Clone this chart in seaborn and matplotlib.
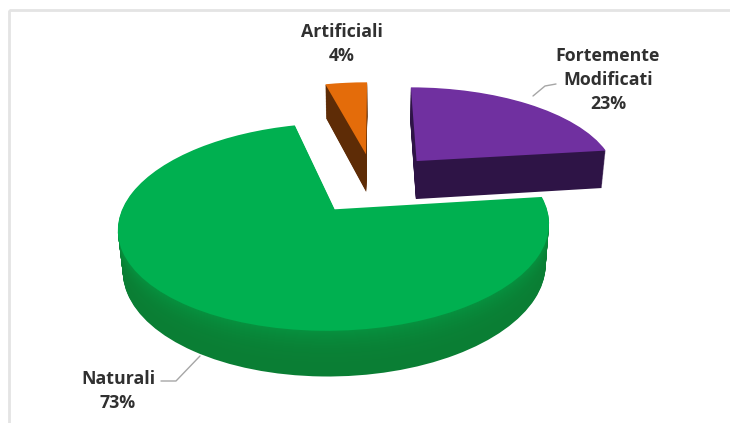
import numpy as np
import pandas as pd
import matplotlib
matplotlib.use("Agg")
import matplotlib.pyplot as plt
from matplotlib.transforms import Transform
from matplotlib.patches import Rectangle
from matplotlib.path import Path
import seaborn as sns

# ---------------- data ----------------
categories = ["Fortemente\nModificati", "Naturali", "Artificiali"]
values = [23, 73, 4]
top_colors = ["#7030A0", "#00B050", "#E46C0A"]
side_colors = ["#2E1446", "#0A7E34", "#5E2C06"]

df = pd.DataFrame({"categoria": categories, "valore": values})
df["pct"] = df["valore"] / df["valore"].sum() * 100

sns.set_theme(style="white")
plt.rcParams["font.family"] = ["Open Sans", "DejaVu Sans"]

# ---------------- 3D projection ----------------
X0, Y0 = 374.0, 183.0   # pixel position of pie centre
S = 203.0               # pixel scale
ALPHA = np.deg2rad(27.0)
DIST = 5.5
THICK = 0.22
EXPLODE = 0.33


class Proj(Transform):
    input_dims = 2
    output_dims = 2
    is_separable = False
    has_inverse = False

    def __init__(self, z):
        super().__init__()
        self.z = z

    def transform_non_affine(self, pts):
        pts = np.asarray(pts, dtype=float)
        x, y = pts[:, 0], pts[:, 1]
        sn, c = np.sin(ALPHA), np.cos(ALPHA)
        w = y * c - self.z * sn
        s = DIST / (DIST + w)
        u = X0 + S * x * s
        v = Y0 - S * (y * sn + self.z * c) * s
        return np.column_stack([u, v])

    def transform_path_non_affine(self, path):
        return Path._fast_from_codes_and_verts(
            self.transform_non_affine(path.vertices), path.codes, path)


fig = plt.figure(figsize=(7.30, 4.23), dpi=100)
fig.patch.set_facecolor("white")
ax = fig.add_axes([0, 0, 1, 1])

# paint order: orange (back), purple, green (front)
order_z = {2: 1, 0: 3, 1: 5}

n_layers = 46
zs = np.linspace(-THICK, 0, n_layers)
for li, z in enumerate(zs):
    is_top = li == n_layers - 1
    frac = li / (n_layers - 1)
    cols = []
    for i in range(len(values)):
        if is_top:
            cols.append(top_colors[i])
        else:
            base = np.array(matplotlib.colors.to_rgb(side_colors[i]))
            light = np.array(matplotlib.colors.to_rgb(top_colors[i]))
            k = 0.4 * frac ** 3 if i == 1 else 0.0
            cols.append(tuple(base * (1 - k) + light * k))
    wedges, _ = ax.pie(df["valore"], explode=[EXPLODE] * len(values), startangle=90,
                       counterclock=False, colors=cols,
                       wedgeprops=dict(linewidth=0, antialiased=True))
    tr = Proj(z) + ax.transData
    for i, w in enumerate(wedges):
        w.set_transform(tr)
        w.set_zorder(order_z[i] + (1 if is_top else 0))

ax.set_aspect("auto")
ax.set_xlim(0, 730)
ax.set_ylim(423, 0)
ax.axis("off")

# light frame
ax.add_patch(Rectangle((9, 10), 760, 460, fill=False, edgecolor="#E4E4E4",
                       linewidth=2, zorder=0))

# ---------------- labels ----------------
lab_kw = dict(ha="center", va="center", fontsize=12.8, fontweight="bold",
              color="#303030", linespacing=1.42, zorder=10)
label_pos = {0: (608, 80), 1: (118, 391), 2: (342, 44)}
for i, row in df.iterrows():
    txt = f"{row['categoria']}\n{row['pct']:.0f}%"
    ax.text(*label_pos[i], txt, **lab_kw)

# leader lines
ax.plot([533, 545, 556], [96, 86, 84], color="#A6A6A6", lw=1.0, zorder=9)
ax.plot([161, 176, 200], [381, 381, 356], color="#A6A6A6", lw=1.0, zorder=9)

fig.savefig("out.png", dpi=100, facecolor="white")
